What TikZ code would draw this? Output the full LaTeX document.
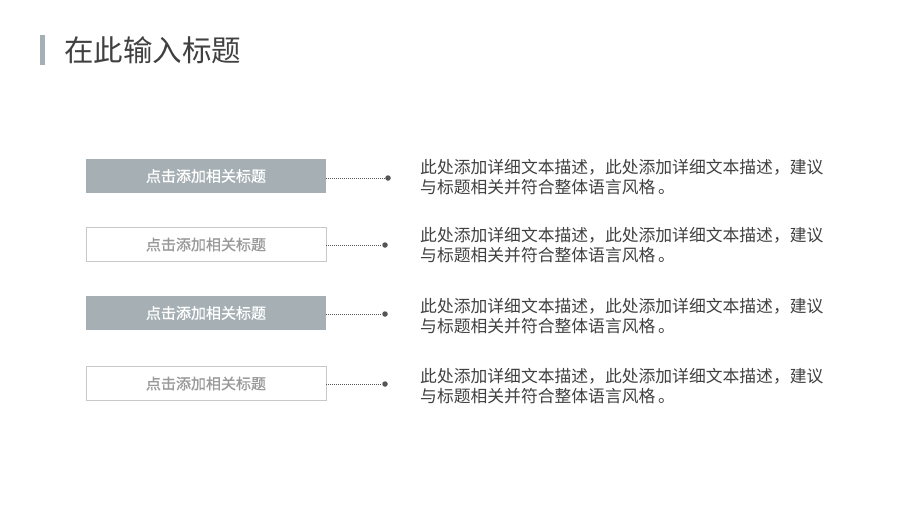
\documentclass[tikz,border=0pt]{standalone}
\usepackage{fontspec}
\newfontfamily\cjk{Noto Sans CJK SC}
\newfontfamily\cjkb[FakeBold=0.8]{Noto Sans CJK SC}
\definecolor{boxgray}{HTML}{A6B0B4}
\definecolor{linegray}{HTML}{C8C8C8}
\definecolor{txtdark}{HTML}{404040}
\definecolor{txtlight}{HTML}{9A9A9A}
\definecolor{dotgray}{HTML}{555555}
\tikzset{
  filledbox/.style={draw=none, fill=boxgray, minimum width=240pt, minimum height=34pt, inner sep=0pt, text=white, font=\cjkb\fontsize{15pt}{18pt}\selectfont},
  outlinebox/.style={draw=linegray, line width=0.8pt, fill=white, minimum width=240pt, minimum height=34pt, inner sep=0pt, text=txtlight, font=\cjkb\fontsize{15pt}{18pt}\selectfont},
  dotnode/.style={circle, fill=dotgray, inner sep=0pt, minimum size=5.5pt},
  connector/.style={draw=dotgray, line width=0.6pt, dash pattern=on 1pt off 1pt},
  desc/.style={anchor=west, align=left, inner sep=0pt, text=txtdark, font=\cjk\fontsize{16.8pt}{20pt}\selectfont},
}
\begin{document}
\begin{tikzpicture}[x=1pt,y=-1pt]
\useasboundingbox (0,0) rectangle (900,506);
\fill[boxgray] (40,35) rectangle (45,65);
\node[anchor=west, inner sep=0pt, text=txtdark, font=\cjk\fontsize{29.5pt}{32pt}\selectfont] (title) at (64,50) {在此输入标题};

\node[filledbox] (box1) at (206,176) {点击添加相关标题};
\node[outlinebox] (box2) at (206,244.5) {点击添加相关标题};
\node[filledbox] (box3) at (206,313) {点击添加相关标题};
\node[outlinebox] (box4) at (206,383.5) {点击添加相关标题};

\node[dotnode] (dot1) at (388,178) {};
\node[dotnode] (dot2) at (385,245) {};
\node[dotnode] (dot3) at (385,314) {};
\node[dotnode] (dot4) at (385,384) {};

\draw[connector] (box1.east |- dot1) -- (dot1);
\draw[connector] (box2.east |- dot2) -- (dot2);
\draw[connector] (box3.east |- dot3) -- (dot3);
\draw[connector] (box4.east |- dot4) -- (dot4);

\node[desc] (desc1) at (420,177) {此处添加详细文本描述，此处添加详细文本描述，建议\\与标题相关并符合整体语言风格\,。};
\node[desc] (desc2) at (420,245) {此处添加详细文本描述，此处添加详细文本描述，建议\\与标题相关并符合整体语言风格\,。};
\node[desc] (desc3) at (420,316) {此处添加详细文本描述，此处添加详细文本描述，建议\\与标题相关并符合整体语言风格\,。};
\node[desc] (desc4) at (420,386) {此处添加详细文本描述，此处添加详细文本描述，建议\\与标题相关并符合整体语言风格\,。};
\end{tikzpicture}
\end{document}
